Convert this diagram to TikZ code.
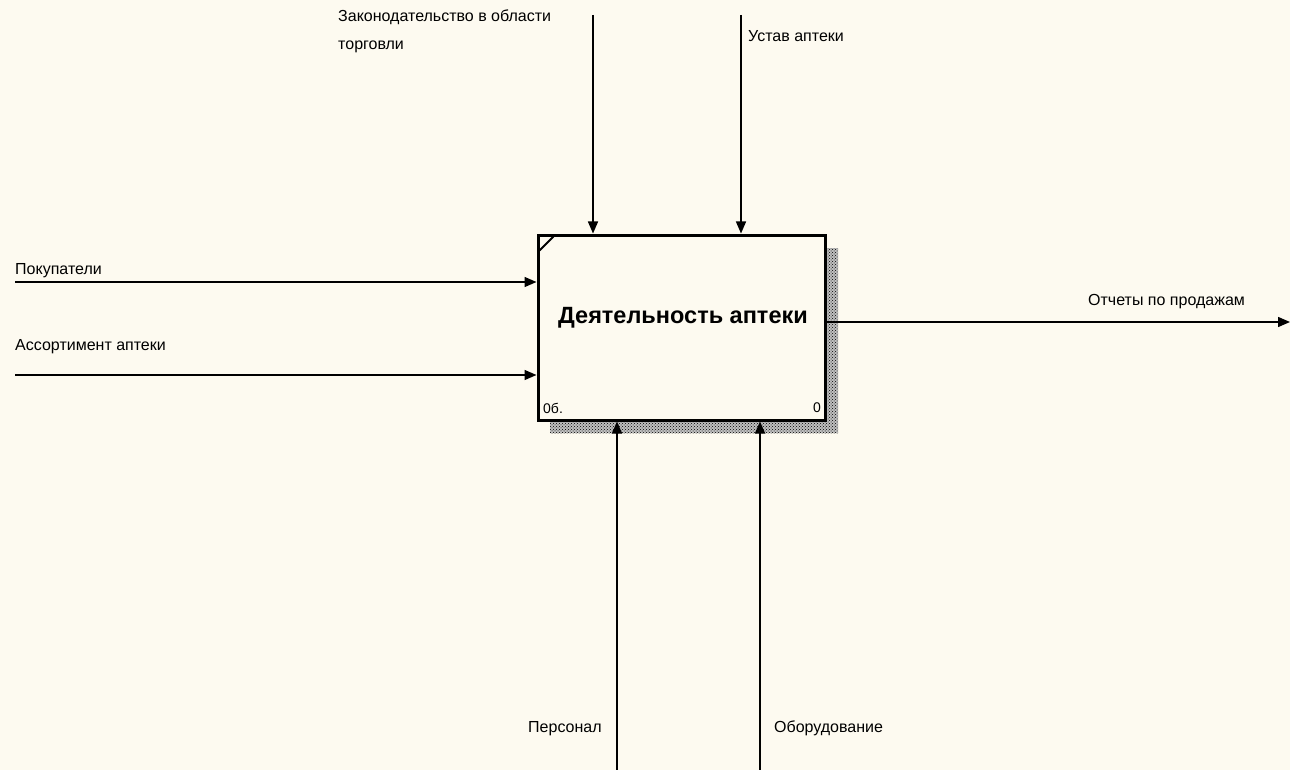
\documentclass[tikz,border=0pt]{standalone}
\usepackage{fontspec}
\setmainfont{Liberation Sans}
\usetikzlibrary{arrows.meta,patterns}
\definecolor{paper}{RGB}{253,250,240}
\tikzset{
  arr/.style={-{Triangle[length=12pt,width=10pt]},line width=1.4pt},
  lbl/.style={anchor=west,inner sep=0pt,font=\fontsize{16}{28}\selectfont},
}
\begin{document}
\begin{tikzpicture}[x=1pt,y=-1pt]
\fill[paper] (0,0) rectangle (1290,770);
\useasboundingbox (0,0) rectangle (1290,770);
% shadow
\fill[black!25] (825,248) rectangle (838,433) (550,420) rectangle (825,433);
\fill[pattern=crosshatch dots,pattern color=black] (825,248) rectangle (838,433);
\fill[pattern=crosshatch dots,pattern color=black] (550,420) rectangle (825,433);
\node (act) at (681.5,327.5) [shape=rectangle,draw,line width=3pt,fill=paper,minimum width=287pt,minimum height=185pt]{};
\node at (683,318) {\fontsize{23.5}{28}\selectfont\bfseries Деятельность аптеки};
\draw [line width=2pt] ([shift={(3,17)}]act.north west) -- ([shift={(17,3)}]act.north west);
\node at (543,408) [lbl,font=\fontsize{14}{16}\selectfont]{0б.};
\node at (821,408) [lbl,anchor=east,font=\fontsize{14}{16}\selectfont]{0};
% inputs
\coordinate (pok) at (15,282);
\coordinate (ass) at (15,375);
\node at (15,271) [lbl]{Покупатели};
\node at (15,347) [lbl]{Ассортимент аптеки};
\draw [arr] (pok) to (pok -| act.west);
\draw [arr] (ass) to (ass -| act.west);
% controls
\coordinate (zak) at (593,15);
\coordinate (ust) at (741,15);
\node at (338,31) [lbl,align=left]{Законодательство в области\\торговли};
\node at (748,36) [lbl]{Устав аптеки};
\draw [arr] (zak) to (zak |- act.north);
\draw [arr] (ust) to (ust |- act.north);
% mechanisms
\coordinate (per) at (617,770);
\coordinate (obo) at (760,770);
\node at (528,729) [lbl]{Персонал};
\node at (774,728) [lbl]{Оборудование};
\draw [arr] (per) to (per |- act.south);
\draw [arr] (obo) to (obo |- act.south);
% output
\coordinate (otch) at (1290,322);
\node at (1088,302) [lbl]{Отчеты по продажам};
\draw [arr] (otch -| act.east) to (otch);
\end{tikzpicture}
\end{document}
